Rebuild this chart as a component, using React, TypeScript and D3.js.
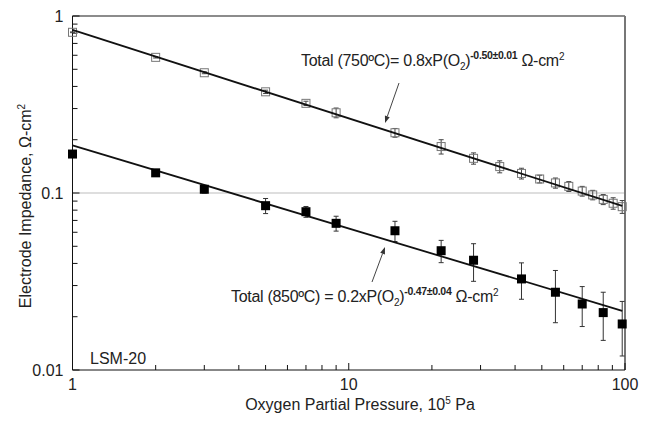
import React from "react";
import * as d3 from "d3";

const pressure750 = [1, 2, 3, 5, 7, 9, 14.7, 21.6, 28.3, 35.2, 42.2, 49.1, 56, 62.6, 70, 76.4, 83.4, 90.6, 97.7];
const z750 = [0.809, 0.584, 0.478, 0.373, 0.321, 0.284, 0.219, 0.183, 0.157, 0.141, 0.129, 0.12, 0.114, 0.109, 0.1025, 0.0975, 0.092, 0.0875, 0.0837];
const err750 = [0.004, 0.005, 0.006, 0.008, 0.009, 0.018, 0.0125, 0.017, 0.0115, 0.011, 0.009, 0.006, 0.0075, 0.007, 0.0065, 0.006, 0.006, 0.0065, 0.007];

const pressure850 = [1, 2, 3, 5, 7, 9, 14.7, 21.6, 28.3, 42.2, 56, 70, 83.4, 97.7];
const z850 = [0.166, 0.13, 0.105, 0.0848, 0.0784, 0.0674, 0.0612, 0.0472, 0.0417, 0.0327, 0.0275, 0.0236, 0.0211, 0.0182];
const err850 = [0.003, 0.004, 0.005, 0.0083, 0.0055, 0.0065, 0.008, 0.0068, 0.01, 0.0076, 0.009, 0.006, 0.0064, 0.0062];

const fitP = [1, 97.7];
const fit750 = [0.834, 0.0845];
const fit850 = [0.186, 0.0216];

const xTickValues = [1, 10, 100];
const xTickLabels = ["1", "10", "100"];
const yTickValues = [0.01, 0.1, 1];
const yTickLabels = ["0.01", "0.1", "1"];

const W = 653;
const H = 425;
const L = 72.5, R = 625, T = 16, B = 370;

export default function App() {
  const x = d3.scaleLog().domain([1, 100]).range([L, R]);
  const y = d3.scaleLog().domain([0.01, 1]).range([B, T]);
  const font = "'Liberation Sans', Arial, sans-serif";

  const xMinor: number[] = [];
  const yMinor: number[] = [];
  [1, 10].forEach((d) => { for (let k = 2; k <= 9; k++) xMinor.push(d * k); });
  [0.01, 0.1].forEach((d) => { for (let k = 2; k <= 9; k++) yMinor.push(d * k); });

  const line = d3.line<[number, number]>().x((d) => x(d[0])).y((d) => y(d[1]));
  const l750 = line(fitP.map((p, i) => [p, fit750[i]] as [number, number])) || "";
  const l850 = line(fitP.map((p, i) => [p, fit850[i]] as [number, number])) || "";

  const errBar = (p: number, v: number, e: number, key: string, color: string) => {
    const cx = x(p);
    const y1 = y(v + e), y2 = y(Math.max(v - e, 0.0101));
    return (
      <g key={key} stroke={color} strokeWidth={1}>
        <line x1={cx} x2={cx} y1={y1} y2={y2} />
        <line x1={cx - 2.5} x2={cx + 2.5} y1={y1} y2={y1} />
        <line x1={cx - 2.5} x2={cx + 2.5} y1={y2} y2={y2} />
      </g>
    );
  };

  const arrow = (x1: number, y1: number, x2: number, y2: number) => {
    const ang = Math.atan2(y2 - y1, x2 - x1);
    const len = 7, wid = 2.5;
    const bx = x2 - len * Math.cos(ang), by = y2 - len * Math.sin(ang);
    const px = -Math.sin(ang) * wid, py = Math.cos(ang) * wid;
    return (
      <g>
        <line x1={x1} y1={y1} x2={bx} y2={by} stroke="#444" strokeWidth={1} />
        <path d={`M${x2},${y2}L${bx + px},${by + py}L${bx - px},${by - py}Z`} fill="#333" />
      </g>
    );
  };

  return (
    <svg width={W} height={H} style={{ position: "absolute", left: 0, top: 0, background: "#fff" }} fontFamily={font}>
      <rect x={0} y={0} width={W} height={H} fill="#fff" />
      {/* gridline at 0.1 */}
      <line x1={L} x2={R} y1={y(0.1)} y2={y(0.1)} stroke="#bdbdbd" strokeWidth={1} />
      {/* frame */}
      <line x1={L} x2={R} y1={T} y2={T} stroke="#666" strokeWidth={1.3} />
      <line x1={R} x2={R} y1={T} y2={B} stroke="#777" strokeWidth={2} />
      <line x1={L} x2={L} y1={T} y2={B} stroke="#111" strokeWidth={1} />
      <line x1={L} x2={R} y1={B} y2={B} stroke="#111" strokeWidth={1} />

      {/* x ticks */}
      {xMinor.map((v) => (
        <line key={"xm" + v} x1={x(v)} x2={x(v)} y1={B} y2={B - 5} stroke="#111" />
      ))}
      {xTickValues.map((v, i) => (
        <g key={"xt" + v}>
          <line x1={x(v)} x2={x(v)} y1={B} y2={B - 7} stroke="#111" />
          <text x={x(v)} y={B + 20} fontSize={16} textAnchor="middle" fill="#222">{xTickLabels[i]}</text>
        </g>
      ))}
      {/* y ticks */}
      {yMinor.map((v) => (
        <line key={"ym" + v} x1={L} x2={L + 5} y1={y(v)} y2={y(v)} stroke="#111" />
      ))}
      {yTickValues.map((v, i) => (
        <g key={"yt" + v}>
          <line x1={L} x2={L + 7} y1={y(v)} y2={y(v)} stroke="#111" />
          <text x={L - 9} y={y(v) + 5.5} fontSize={16} textAnchor="end" fill="#222">{yTickLabels[i]}</text>
        </g>
      ))}

      {/* axis titles */}
      <text x={360} y={410} fontSize={16} textAnchor="middle" fill="#222">
        Oxygen Partial Pressure, 10<tspan dy={-6} fontSize={10}>5</tspan><tspan dy={6}> Pa</tspan>
      </text>
      <text transform={`translate(31,206) rotate(-90)`} fontSize={16} textAnchor="middle" fill="#222">
        Electrode Impedance, Ω-cm<tspan dy={-6} fontSize={10}>2</tspan>
      </text>

      {/* error bars */}
      {pressure750.map((p, i) => errBar(p, z750[i], err750[i], "e750" + i, "#444"))}
      {pressure850.map((p, i) => errBar(p, z850[i], err850[i], "e850" + i, "#333"))}

      {/* open squares */}
      {pressure750.map((p, i) => (
        <rect key={"o" + i} x={x(p) - 4} y={y(z750[i]) - 4} width={8} height={8} fill="none" stroke="#777" strokeWidth={1} />
      ))}

      {/* fit lines */}
      <path d={l750} fill="none" stroke="#111" strokeWidth={1.8} />
      <path d={l850} fill="none" stroke="#111" strokeWidth={1.8} />

      {/* filled squares */}
      {pressure850.map((p, i) => (
        <rect key={"f" + i} x={x(p) - 4.5} y={y(z850[i]) - 4.5} width={9} height={9} fill="#000" />
      ))}

      {/* annotations */}
      <text x={301} y={65.5} fontSize={16} fill="#222" letterSpacing={-0.3}>
        Total (750ºC)= 0.8xP(O<tspan dy={4} fontSize={10}>2</tspan><tspan dy={-4}>)</tspan>
        <tspan dy={-7} fontSize={10.5} fontWeight="bold">-0.50±0.01</tspan>
        <tspan dy={7}> Ω-cm</tspan><tspan dy={-6} fontSize={10}>2</tspan>
      </text>
      {arrow(399, 83, 385, 123)}

      <text x={231} y={302} fontSize={16} fill="#222" letterSpacing={-0.3}>
        Total (850ºC) = 0.2xP(O<tspan dy={4} fontSize={10}>2</tspan><tspan dy={-4}>)</tspan>
        <tspan dy={-7} fontSize={10.5} fontWeight="bold">-0.47±0.04</tspan>
        <tspan dy={7}> Ω-cm</tspan><tspan dy={-6} fontSize={10}>2</tspan>
      </text>
      {arrow(372, 282, 385, 247)}

      <text x={90} y={364} fontSize={16} fill="#222">LSM-20</text>
    </svg>
  );
}
